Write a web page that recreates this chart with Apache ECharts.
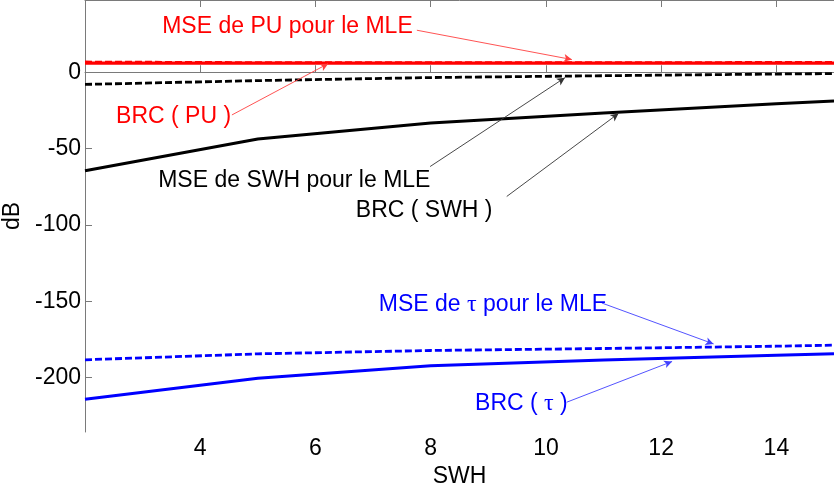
<!DOCTYPE html>
<html>
<head>
<meta charset="utf-8">
<script src="https://cdn.jsdelivr.net/npm/echarts@6/dist/echarts.min.js"></script>
<style>html,body{margin:0;padding:0;background:#fff}#c{width:834px;height:486px}</style>
</head>
<body>
<div id="c"></div>
<script>
// ---- data ----
const swh     = [2, 5, 8, 11, 14, 15];
const brcPU   = [6.0, 6.0, 6.0, 6.0, 6.0, 6.0];
const msePU   = [6.8, 6.4, 6.4, 6.4, 6.5, 6.5];
const brcSWH  = [-64.6, -43.8, -33.2, -26.8, -20.7, -18.8];
const mseSWH  = [-8.0, -5.5, -3.5, -2.3, -1.2, -0.9];
const brcTau  = [-214.3, -200.5, -192.3, -188.5, -185.5, -184.5];
const mseTau  = [-188.4, -184.5, -182.3, -181.0, -179.5, -178.8];
const xTicks  = [4, 6, 8, 10, 12, 14];
const yTicks  = [-200, -150, -100, -50, 0];

// annotations: text anchor (left edge, middle) and arrow from -> to, in data units
const notes = [
  {text: '{a|MSE de PU pour le MLE}', color: '#ff0000', arrow: '#ff4040', at: [3.34, 30.1], from: [7.76, 27.5], to: [10.45, 8.3]},
  {text: '{a|BRC ( PU )}', color: '#ff0000', arrow: '#ff4040', at: [2.54, -29.1], from: [4.55, -28.0], to: [6.22, 5.6]},
  {text: '{a|MSE de SWH pour le MLE}', color: '#000000', arrow: '#333333', at: [3.27, -71.1], from: [7.99, -61.8], to: [10.33, -3.6]},
  {text: '{a|BRC ( SWH )}', color: '#000000', arrow: '#333333', at: [6.70, -90.8], from: [9.32, -81.4], to: [11.26, -27.0]},
  {text: '{a|MSE de }{t|τ}{a| pour le MLE}', color: '#0000ff', arrow: '#4040ff', at: [7.10, -152.0], from: [10.97, -151.2], to: [12.91, -178.0]},
  {text: '{a|BRC ( }{t|τ}{a| )}', color: '#0000ff', arrow: '#4040ff', at: [8.77, -217.1], from: [10.36, -216.2], to: [12.19, -189.5]}
];

const FONT = '"Liberation Sans", Arial, sans-serif';
const pairs = (ys) => swh.map((x, i) => [x, ys[i]]);

function lineSeries(name, ys, color, dashed, width) {
  return {
    name, type: 'line', data: pairs(ys), showSymbol: false, symbol: 'none',
    lineStyle: {color, width, type: dashed ? [7, 3] : 'solid', opacity: 1},
    silent: true, animation: false, z: dashed ? 3 : 2
  };
}

const series = [
  lineSeries('BRC (PU)', brcPU, '#ff0000', false, 3.2),
  lineSeries('MSE PU', msePU, '#ff0000', true, 2.4),
  lineSeries('BRC (SWH)', brcSWH, '#000000', false, 3),
  lineSeries('MSE SWH', mseSWH, '#000000', true, 2.8),
  lineSeries('BRC (tau)', brcTau, '#0000ff', false, 3),
  lineSeries('MSE tau', mseTau, '#0000ff', true, 2.8)
];

notes.forEach((n, i) => {
  series.push({
    type: 'scatter', name: 'note' + i, symbolSize: 0, silent: true, animation: false, z: 5,
    itemStyle: {opacity: 1, color: n.color},
    data: [n.at],
    label: {
      show: true, position: 'right', distance: 0, formatter: n.text, opacity: 1,
      rich: {
        a: {fontFamily: FONT, fontSize: 23, color: n.color},
        t: {fontFamily: '"Liberation Serif", "DejaVu Serif", serif', fontSize: 24, color: n.color}
      }
    },
    markLine: {
      silent: true, animation: false, symbol: ['none', 'arrow'], symbolSize: [6, 8],
      label: {show: false},
      lineStyle: {color: n.arrow, width: 0.9, type: 'solid', opacity: 1},
      itemStyle: {color: n.arrow, opacity: 1},
      data: [[{coord: n.from}, {coord: n.to}]]
    }
  });
});

const axisLineGrey = '#7a7a7a';
const option = {
  backgroundColor: '#ffffff',
  animation: false,
  grid: {left: 85, right: 0, top: 0, bottom: 54, containLabel: false, outerBoundsMode: 'none'},
  xAxis: [
    {
      type: 'value', min: 2, max: 15, position: 'bottom',
      name: 'SWH', nameLocation: 'middle', nameGap: 26,
      nameTextStyle: {fontFamily: FONT, fontSize: 23, color: '#000'},
      axisLine: {show: true, lineStyle: {color: axisLineGrey, width: 1}},
      axisTick: {show: true, inside: true, length: 7, customValues: xTicks, lineStyle: {color: axisLineGrey}},
      axisLabel: {customValues: xTicks, fontFamily: FONT, fontSize: 23, color: '#000', margin: 5},
      splitLine: {show: false}
    },
    {
      type: 'value', min: 2, max: 15, position: 'top',
      axisLine: {show: true, lineStyle: {color: axisLineGrey, width: 1}},
      axisTick: {show: true, inside: true, length: 7, customValues: xTicks, lineStyle: {color: axisLineGrey}},
      axisLabel: {show: false},
      splitLine: {show: false}
    }
  ],
  yAxis: {
    type: 'value', min: -235.7, max: 47.3,
    name: 'dB', nameLocation: 'middle', nameGap: 50,
    nameTextStyle: {fontFamily: FONT, fontSize: 23, color: '#000'},
    axisLine: {show: true, lineStyle: {color: axisLineGrey, width: 1}},
    axisTick: {show: true, inside: true, length: 7, customValues: yTicks, lineStyle: {color: axisLineGrey}},
    axisLabel: {customValues: yTicks, fontFamily: FONT, fontSize: 23, color: '#000', margin: 4},
    splitLine: {show: false}
  },
  series
};

const chart = echarts.init(document.getElementById('c'), null, {renderer: 'canvas'});
chart.setOption(option);
</script>
</body>
</html>
